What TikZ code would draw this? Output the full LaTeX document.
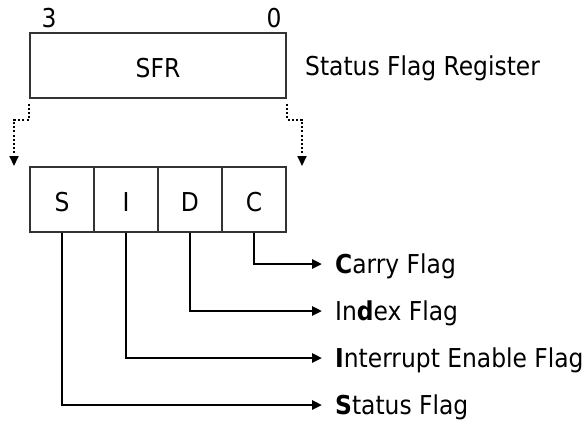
\documentclass[tikz,border=0pt]{standalone}
\usepackage{fontspec}
\setmainfont{DejaVu Sans Condensed}
\usetikzlibrary{arrows.meta}
\begin{document}
\begin{tikzpicture}[x=1pt,y=-1pt,
 box/.style={draw=black!80, line width=1.4pt, minimum width=256pt, minimum height=65pt, inner sep=0pt, font=\fontsize{26}{31}\selectfont, text height=24pt, text depth=0pt},
 cell/.style={draw=black!80, line width=1.2pt, minimum width=64pt, minimum height=65pt, inner sep=0pt, font=\fontsize{26}{31}\selectfont, text height=24pt, text depth=0pt},
 txt/.style={font=\fontsize{26}{31}\selectfont, inner sep=0pt},
 conn/.style={line width=2.6pt, -{Triangle[length=10pt,width=9pt]}},
 dots/.style={line width=2pt, dash pattern=on 2pt off 2.2pt, -{Triangle[length=10pt,width=9pt]}}
]
\useasboundingbox (0,0) rectangle (588,423);
\node[box] (sfr) at (158,65.5) {SFR};
\node[txt, anchor=base] (b3) at (49,27) {3};
\node[txt, anchor=base] (b0) at (274,27) {0};
\node[txt, anchor=base west] (sfrl) at (305,75) {Status Flag Register};
\node[cell] (S) at (62,199.5) {S};
\node[cell] (I) at (126,199.5) {I};
\node[cell] (D) at (190,199.5) {D};
\node[cell] (C) at (254,199.5) {C};
\coordinate (dl) at (14,166);
\coordinate (dr) at (302,166);
\draw[dots] ([yshift=-5pt]sfr.south west) -- ++(0,16) -| (dl);
\draw[dots] ([yshift=-5pt]sfr.south east) -- ++(0,16) -| (dr);
\coordinate (tC) at (322,264);
\coordinate (tD) at (322,311);
\coordinate (tI) at (322,358);
\coordinate (tS) at (322,405);
\node[txt, anchor=base west] (lC) at (335,273) {\textbf{C}arry Flag};
\node[txt, anchor=base west] (lD) at (335,320) {In\textbf{d}ex Flag};
\node[txt, anchor=base west] (lI) at (335,367) {\textbf{I}nterrupt Enable Flag};
\node[txt, anchor=base west] (lS) at (335,414) {\textbf{S}tatus Flag};
\draw[conn] (C.south) |- (tC);
\draw[conn] (D.south) |- (tD);
\draw[conn] (I.south) |- (tI);
\draw[conn] (S.south) |- (tS);
\end{tikzpicture}
\end{document}
